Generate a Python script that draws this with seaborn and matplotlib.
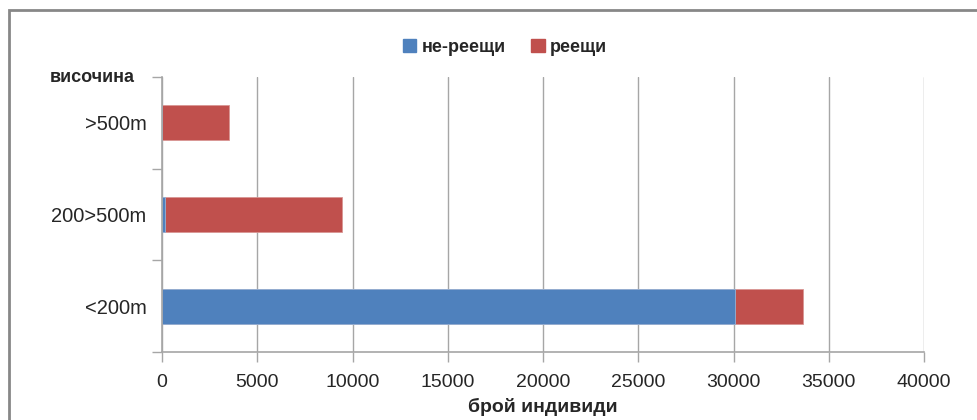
import matplotlib
matplotlib.use("Agg")
import matplotlib.pyplot as plt
from matplotlib.patches import Rectangle, Patch
import seaborn as sns
import pandas as pd

# Individuals by altitude band
categories = [">500m", "200>500m", "<200m"]
non_floating = [0, 150, 30080]      # не-реещи
floating = [3500, 9300, 3570]       # реещи
x_ticks = [0, 5000, 10000, 15000, 20000, 25000, 30000, 35000, 40000]

blue = "#4F81BD"
red = "#C0504D"
grid_c = "#A6A6A6"

sns.set_theme(style="white")
plt.rcParams["font.family"] = ["Liberation Sans", "DejaVu Sans"]

df = pd.DataFrame({
    "cat": categories,
    "blue": non_floating,
    "total": [b + r for b, r in zip(non_floating, floating)],
})

fig = plt.figure(figsize=(9.78, 4.2), dpi=100)
ax = fig.add_axes([162 / 978, 1 - 352 / 420, (924 - 162) / 978, (352 - 77) / 420])

# stacked bars: full total in red, non-floating part in blue on top
sns.barplot(data=df, y="cat", x="total", color=red, width=0.38, ax=ax,
            saturation=1, edgecolor="#D99694", linewidth=0.6, order=categories)
sns.barplot(data=df, y="cat", x="blue", color=blue, width=0.38, ax=ax,
            saturation=1, edgecolor="#95B3D7", linewidth=0.6, order=categories)

ax.set_xlim(0, 40000)
ax.set_ylim(2.5, -0.5)
ax.set_xticks(x_ticks)
ax.set_xticklabels([str(v) for v in x_ticks], fontsize=14)
ax.set_yticks([0, 1, 2])
ax.set_yticklabels(categories, fontsize=14.5)
ax.tick_params(axis="y", which="major", left=False, length=0, pad=11)
ax.tick_params(axis="x", bottom=True, length=7, color=grid_c, width=1, pad=9,
               direction="out")

# boundary ticks between categories on the value axis
ax.set_yticks([-0.5, 0.5, 1.5, 2.5], minor=True)
ax.tick_params(axis="y", which="minor", left=True, length=7, color=grid_c,
               width=1, direction="out")

ax.xaxis.grid(True, color=grid_c, linewidth=1)
ax.set_axisbelow(True)
for s in ["top", "right"]:
    ax.spines[s].set_visible(False)
for s in ["left", "bottom"]:
    ax.spines[s].set_color(grid_c)
    ax.spines[s].set_linewidth(1.2)

ax.set_ylabel("")
ax.set_xlabel("брой индивиди", fontsize=14, fontweight="bold", labelpad=5)
fig.text(50 / 978, 1 - 77 / 420, "височина", fontsize=13, fontweight="bold",
         ha="left", va="center")

handles = [Patch(facecolor=blue, edgecolor=blue), Patch(facecolor=red, edgecolor=red)]
fig.legend(handles, ["не-реещи", "реещи"], loc="center", ncol=2,
           bbox_to_anchor=(505 / 978, 1 - 47 / 420), frameon=False,
           prop={"size": 13, "weight": "bold"}, handlelength=0.75, handleheight=0.75,
           handletextpad=0.3, columnspacing=1.4)

# outer chart frame
fig.patches.append(Rectangle((9 / 978, -0.2), 1.2, 1.2 - 10 / 420,
                             transform=fig.transFigure, fill=False,
                             edgecolor="#878787", linewidth=2))

fig.savefig("out.png", dpi=100)
